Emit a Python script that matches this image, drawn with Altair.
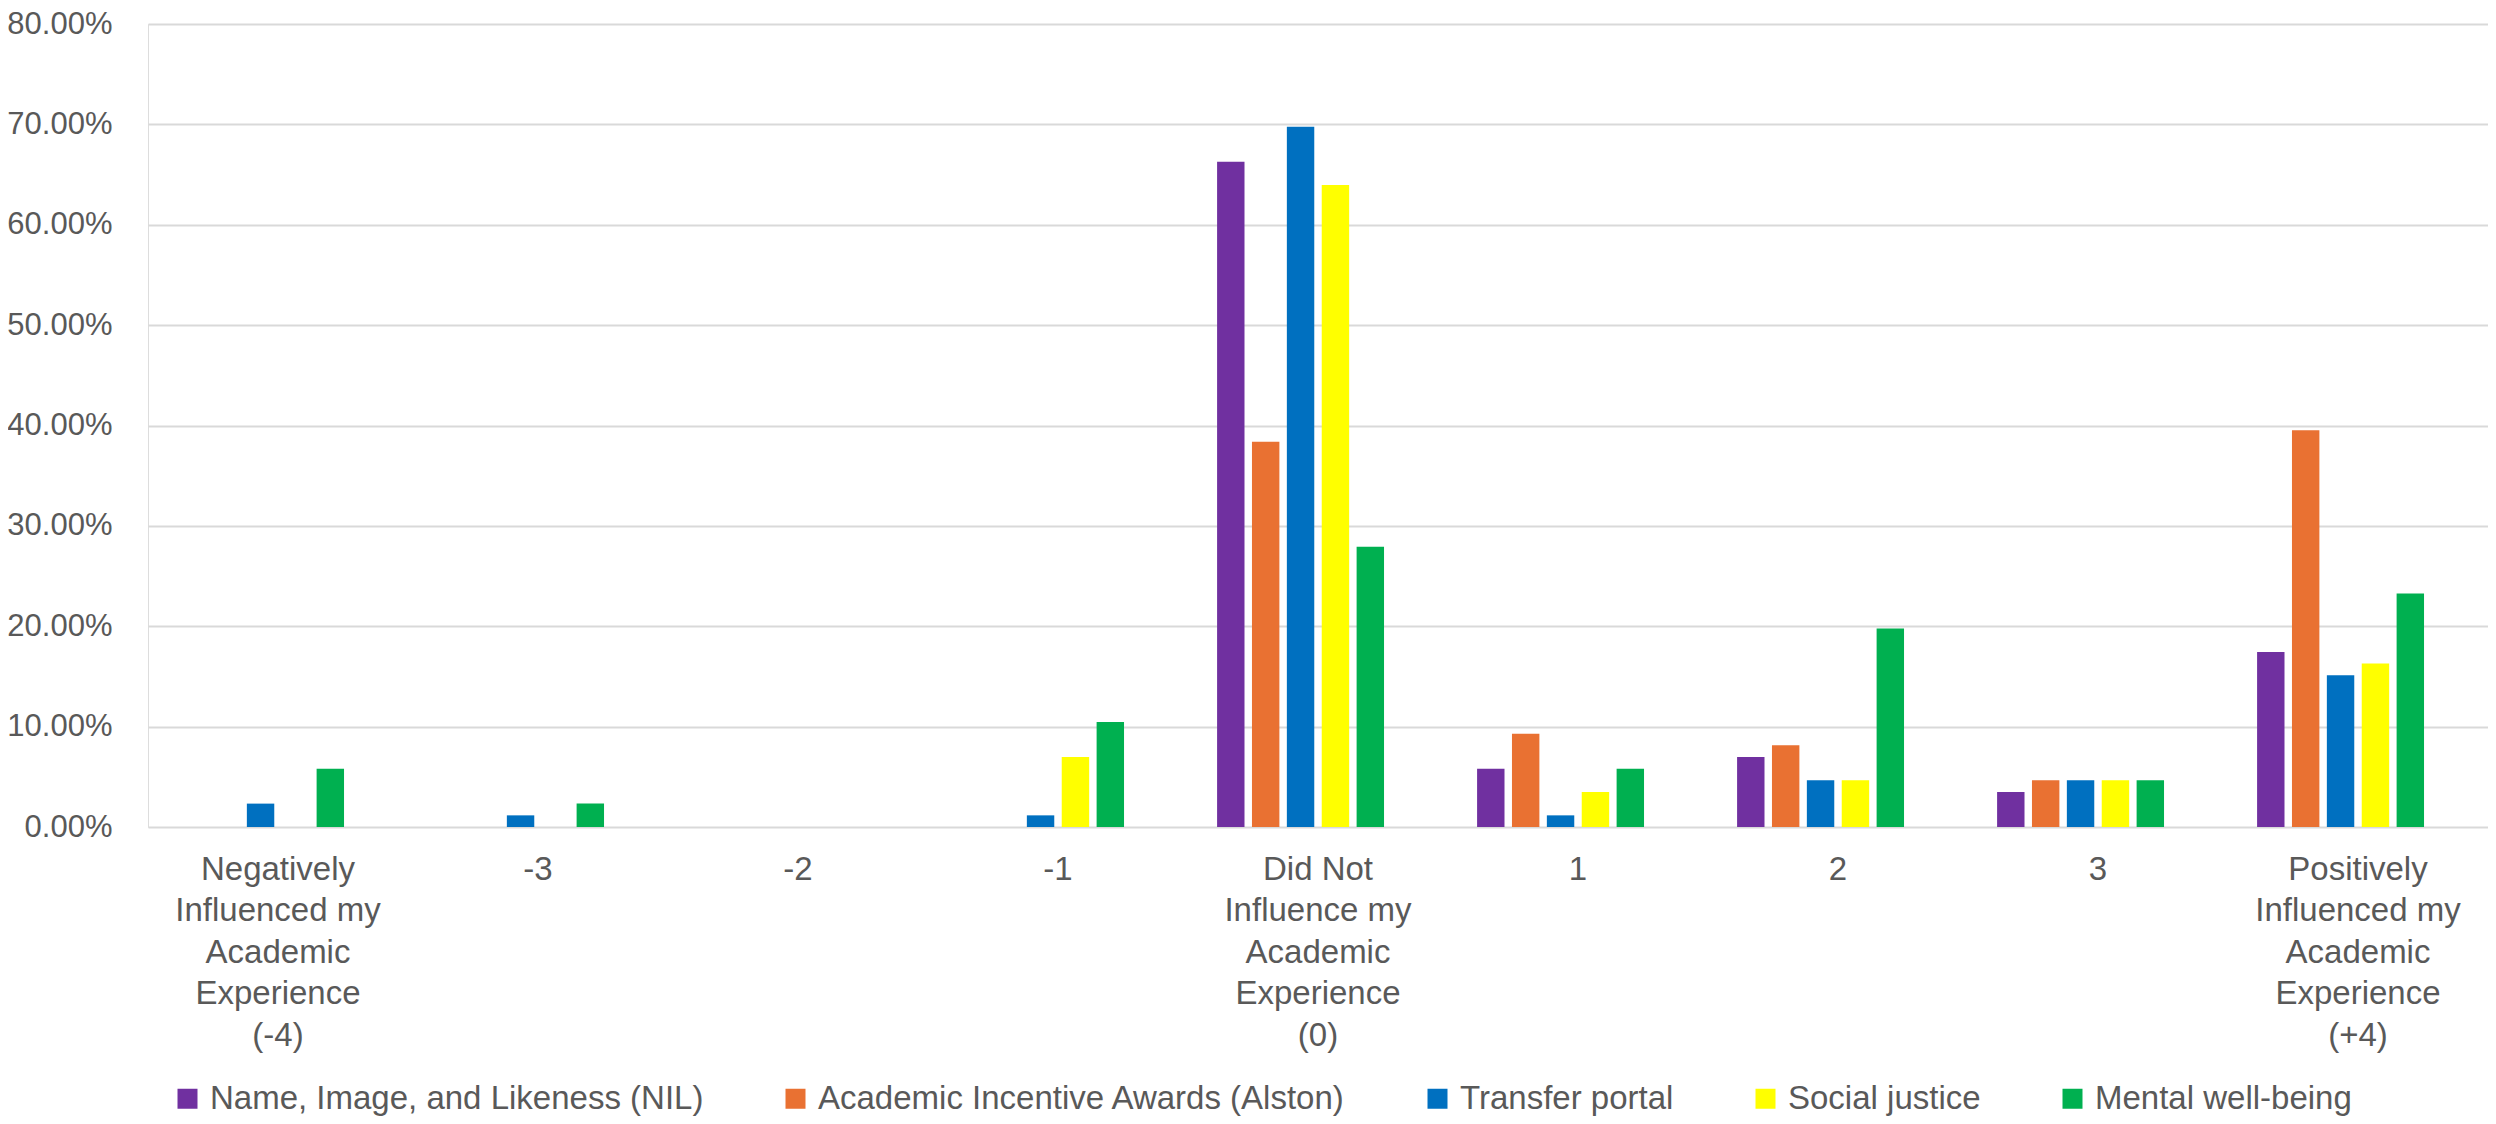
import altair as alt
import pandas as pd

categories = [
    "Negatively\nInfluenced my\nAcademic\nExperience\n(-4)",
    "-3",
    "-2",
    "-1",
    "Did Not\nInfluence my\nAcademic\nExperience\n(0)",
    "1",
    "2",
    "3",
    "Positively\nInfluenced my\nAcademic\nExperience\n(+4)",
]

series_names = [
    "Name, Image, and Likeness (NIL)",
    "Academic Incentive Awards (Alston)",
    "Transfer portal",
    "Social justice",
    "Mental well-being",
]
series_colors = ["#7030A0", "#E97132", "#0070C0", "#FFFF00", "#00B050"]

# percentages
nil_vals      = [0.00, 0.00, 0.00, 0.00, 66.28, 5.81, 6.98, 3.49, 17.44]
alston_vals   = [0.00, 0.00, 0.00, 0.00, 38.37, 9.30, 8.14, 4.65, 39.53]
transfer_vals = [2.33, 1.16, 0.00, 1.16, 69.77, 1.16, 4.65, 4.65, 15.12]
social_vals   = [0.00, 0.00, 0.00, 6.98, 63.95, 3.49, 4.65, 4.65, 16.28]
mental_vals   = [5.81, 2.33, 0.00, 10.47, 27.91, 5.81, 19.77, 4.65, 23.26]

y_ticks = [0.0, 0.1, 0.2, 0.3, 0.4, 0.5, 0.6, 0.7, 0.8]

all_vals = [nil_vals, alston_vals, transfer_vals, social_vals, mental_vals]
rows = []
for s, vals in zip(series_names, all_vals):
    for c, v in zip(categories, vals):
        rows.append({"category": c, "series": s, "value": v / 100.0})
df = pd.DataFrame(rows)

FONT = "Liberation Sans"
TXT = "#595959"

chart = alt.Chart(df).mark_bar().encode(
    x=alt.X(
        "category:N",
        sort=categories,
        scale=alt.Scale(paddingInner=0, paddingOuter=0),
        axis=alt.Axis(
            title=None,
            labelAngle=0,
            labelExpr="split(datum.label, '\\n')",
            labelFont=FONT,
            labelFontSize=33,
            labelColor=TXT,
            labelLineHeight=41.5,
            labelPadding=26,
            labelLimit=400,
            ticks=False,
            domain=False,
            grid=False,
        ),
    ),
    xOffset=alt.XOffset(
        "series:N",
        scale=alt.Scale(domain=series_names + ["(empty)"], paddingInner=0.214, paddingOuter=0.834),
    ),
    y=alt.Y(
        "value:Q",
        scale=alt.Scale(domain=[0, 0.8], nice=False),
        axis=alt.Axis(
            title=None,
            values=y_ticks,
            format=".2%",
            labelFont=FONT,
            labelFontSize=31,
            labelColor=TXT,
            labelPadding=36,
            ticks=False,
            domain=False,
            grid=True,
            gridColor="#D9D9D9",
            gridWidth=2,
        ),
    ),
    color=alt.Color(
        "series:N",
        scale=alt.Scale(domain=series_names, range=series_colors),
        legend=alt.Legend(
            title=None,
            orient="none",
            legendX=23,
            legendY=1058,
            direction="horizontal",
            columns=5,
            symbolType="square",
            symbolSize=400,
            symbolStrokeWidth=0,
            labelFont=FONT,
            labelFontSize=33,
            labelColor=TXT,
            labelOffset=6,
            labelLimit=800,
            columnPadding=75,
        ),
    ),
).properties(
    width=2340,
    height=803,
    autosize=alt.AutoSizeParams(type="none"),
    padding={"left": 140, "top": 16, "right": 0, "bottom": 294},
).configure_view(stroke=None).configure(background="white")

chart.save("out.html", embed_options={"renderer": "svg", "actions": False})
